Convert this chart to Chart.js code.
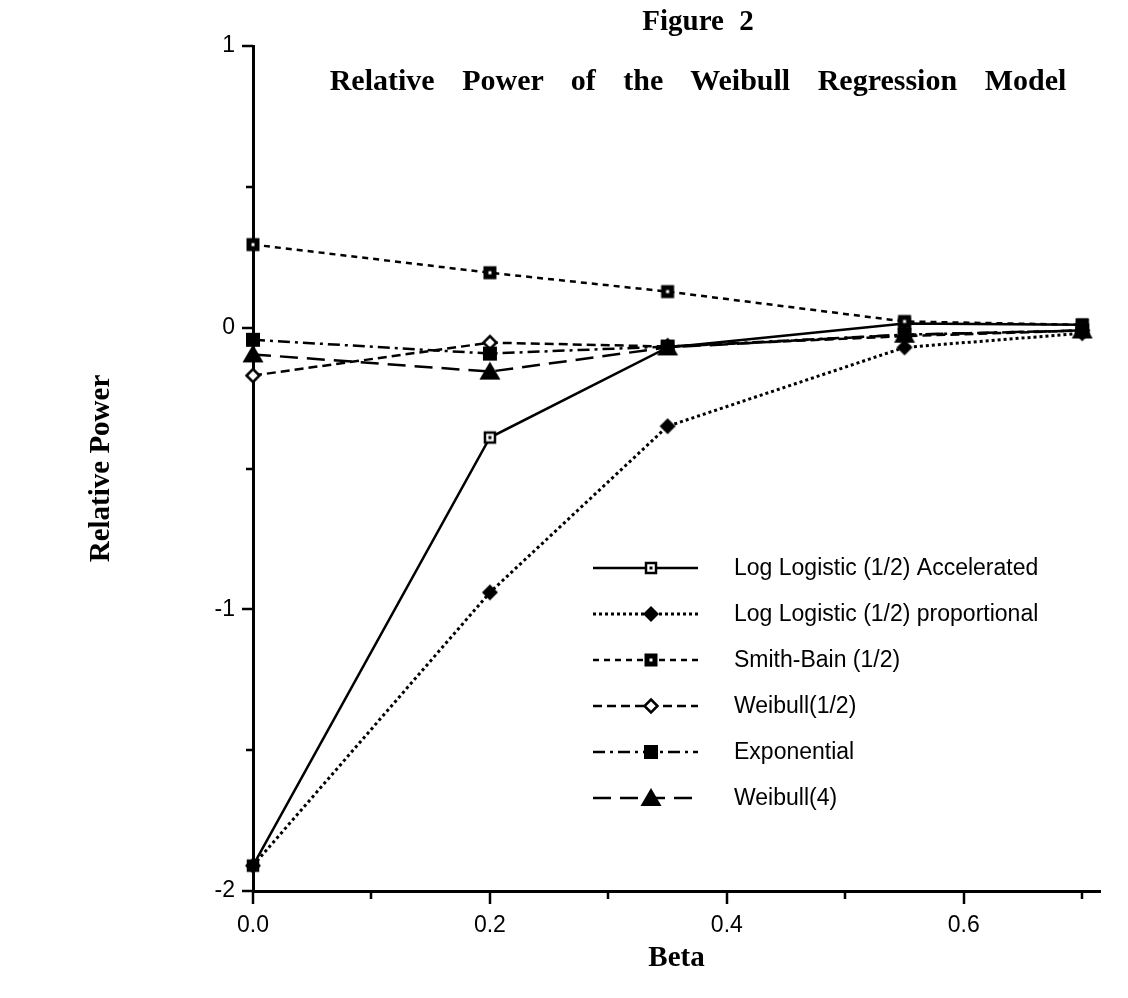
<!DOCTYPE html>
<html>
<head>
<meta charset="utf-8">
<title>Figure 2</title>
<script src="https://cdn.jsdelivr.net/npm/chart.js@4.4.1/dist/chart.umd.min.js"></script>
<style>
  html, body { margin: 0; padding: 0; background: #fff; }
  #wrap { position: relative; width: 1128px; height: 998px; }
  .title {
    position: absolute;
    left: 698px;
    transform: translateX(-50%);
    white-space: nowrap;
    font-family: "Liberation Serif", "Times New Roman", serif;
    font-weight: bold;
    color: #000;
    line-height: 1;
  }
</style>
</head>
<body>
<div id="wrap">
  <canvas id="chart" width="1128" height="998"></canvas>
  <div class="title" style="top:6px; font-size:29px; word-spacing:8px;">Figure 2</div>
  <div class="title" style="top:65px; font-size:30px; word-spacing:20px;">Relative Power of the Weibull Regression Model</div>
</div>
<script>
// values
const betaValues = [0, 0.2, 0.35, 0.55, 0.7];
const logLogisticAccelerated = [-1.91, -0.39, -0.07, 0.015, 0.01];
const logLogisticProportional = [-1.91, -0.94, -0.35, -0.07, -0.02];
const smithBain = [0.295, 0.195, 0.128, 0.022, 0.01];
const weibullHalf = [-0.17, -0.053, -0.067, -0.03, -0.01];
const exponential = [-0.043, -0.092, -0.067, -0.025, -0.01];
const weibullFour = [-0.095, -0.156, -0.07, -0.025, -0.01];

const seriesNames = [
  "Log Logistic (1/2) Accelerated",
  "Log Logistic (1/2) proportional",
  "Smith-Bain (1/2)",
  "Weibull(1/2)",
  "Exponential",
  "Weibull(4)"
];

const xTickLabels = [0, 0.2, 0.4, 0.6];
const yTickLabels = [-2, -1, 0, 1];

// small canvases used as point styles
function makeMarker(kind) {
  const s = 26;
  const c = document.createElement("canvas");
  c.width = s;
  c.height = s;
  const g = c.getContext("2d");
  const m = s / 2;
  g.fillStyle = "#000";
  g.strokeStyle = "#000";
  if (kind === "openSquareDot") {
    g.fillStyle = "#fff";
    g.fillRect(m - 6, m - 6, 12, 12);
    g.lineWidth = 2.5;
    g.strokeRect(m - 5, m - 5, 10, 10);
    g.fillStyle = "#000";
    g.fillRect(m - 1.5, m - 1.5, 3, 3);
  } else if (kind === "diamond") {
    g.beginPath();
    g.moveTo(m, m - 8); g.lineTo(m + 8, m); g.lineTo(m, m + 8); g.lineTo(m - 8, m);
    g.closePath();
    g.fill();
  } else if (kind === "squareDot") {
    g.fillRect(m - 6.5, m - 6.5, 13, 13);
    g.fillStyle = "#fff";
    g.fillRect(m - 1.5, m - 1.5, 3, 3);
  } else if (kind === "openDiamond") {
    g.beginPath();
    g.moveTo(m, m - 6.5); g.lineTo(m + 6.5, m); g.lineTo(m, m + 6.5); g.lineTo(m - 6.5, m);
    g.closePath();
    g.fillStyle = "#fff";
    g.fill();
    g.lineWidth = 2.5;
    g.stroke();
  } else if (kind === "square") {
    g.fillRect(m - 7, m - 7, 14, 14);
  } else if (kind === "triangle") {
    g.beginPath();
    g.moveTo(m, m - 10); g.lineTo(m + 10.5, m + 8); g.lineTo(m - 10.5, m + 8);
    g.closePath();
    g.fill();
  }
  return c;
}

function series(name, values, dash, width, marker, order) {
  return {
    label: name,
    data: betaValues.map((b, i) => ({ x: b, y: values[i] })),
    borderColor: "#000",
    borderWidth: width,
    borderDash: dash,
    pointStyle: makeMarker(marker),
    pointRadius: 8,
    showLine: true,
    tension: 0,
    clip: false,
    order: order
  };
}

const datasets = [
  series(seriesNames[0], logLogisticAccelerated, [], 2.5, "openSquareDot", 5),
  series(seriesNames[1], logLogisticProportional, [3, 3], 3, "diamond", 4),
  series(seriesNames[2], smithBain, [6, 5], 2.5, "squareDot", 3),
  series(seriesNames[3], weibullHalf, [9, 5], 2.5, "openDiamond", 2),
  series(seriesNames[4], exponential, [12, 5, 3, 5], 2.5, "square", 1),
  series(seriesNames[5], weibullFour, [18, 9], 2.5, "triangle", 0)
];

// tick marks: long at labelled values, short at the others
const tickMarks = {
  id: "tickMarks",
  afterDraw(chart) {
    const ctx = chart.ctx;
    const xs = chart.scales.x, ys = chart.scales.y;
    const area = chart.chartArea;
    ctx.save();
    ctx.strokeStyle = "#000";
    ctx.lineWidth = 2.5;
    xs.ticks.forEach(t => {
      const px = Math.round(xs.getPixelForValue(t.value));
      const major = xTickLabels.some(v => Math.abs(v - t.value) < 1e-6);
      ctx.beginPath();
      ctx.moveTo(px, area.bottom);
      ctx.lineTo(px, area.bottom + (major ? 13 : 8));
      ctx.stroke();
    });
    ys.ticks.forEach(t => {
      const py = Math.round(ys.getPixelForValue(t.value));
      const major = yTickLabels.some(v => Math.abs(v - t.value) < 1e-6);
      ctx.beginPath();
      ctx.moveTo(area.left, py);
      ctx.lineTo(area.left - (major ? 11 : 7), py);
      ctx.stroke();
    });
    ctx.restore();
  }
};

// legend drawn inside the plot: line sample with marker in the middle
const innerLegend = {
  id: "innerLegend",
  afterDraw(chart) {
    const ctx = chart.ctx;
    const x0 = 593, x1 = 698, xm = 651, xt = 734, y0 = 568, dy = 46;
    ctx.save();
    chart.data.datasets.forEach((ds, i) => {
      const y = y0 + i * dy;
      ctx.strokeStyle = "#000";
      ctx.lineWidth = ds.borderWidth;
      ctx.setLineDash(ds.borderDash);
      ctx.beginPath();
      ctx.moveTo(x0, y);
      ctx.lineTo(x1, y);
      ctx.stroke();
      ctx.setLineDash([]);
      const img = ds.pointStyle;
      ctx.drawImage(img, xm - img.width / 2, y - img.height / 2);
      ctx.fillStyle = "#000";
      ctx.font = '23px "Liberation Sans", Arial, sans-serif';
      ctx.textBaseline = "middle";
      ctx.textAlign = "left";
      ctx.fillText(ds.label, xt, y + 1);
    });
    ctx.restore();
  }
};

const tickFont = { family: '"Liberation Sans", Arial, sans-serif', size: 23 };
const axisTitleFont = { family: '"Liberation Serif", "Times New Roman", serif', size: 29, weight: "bold" };

new Chart(document.getElementById("chart").getContext("2d"), {
  type: "scatter",
  data: { datasets: datasets },
  options: {
    responsive: false,
    animation: false,
    layout: { padding: { top: 46, right: 28, bottom: 0, left: 0 } },
    plugins: {
      legend: { display: false },
      tooltip: { enabled: false }
    },
    scales: {
      x: {
        type: "linear",
        min: 0,
        max: 0.715,
        afterFit: s => { s.height = 107; },
        grid: { display: false, drawTicks: true, tickLength: 13 },
        border: { display: true, color: "#000", width: 3 },
        ticks: {
          stepSize: 0.1,
          includeBounds: false,
          autoSkip: false,
          maxRotation: 0,
          padding: 8,
          color: "#000",
          font: tickFont,
          callback: v => xTickLabels.some(t => Math.abs(t - v) < 1e-6) ? v.toFixed(1) : ""
        },
        title: {
          display: true,
          text: "Beta",
          color: "#000",
          font: axisTitleFont,
          padding: { top: 0, bottom: 22 }
        }
      },
      y: {
        type: "linear",
        min: -2,
        max: 1,
        afterFit: s => { s.width = 253; },
        grid: { display: false, drawTicks: true, tickLength: 11 },
        border: { display: true, color: "#000", width: 3 },
        ticks: {
          stepSize: 0.5,
          autoSkip: false,
          padding: 7,
          color: "#000",
          font: tickFont,
          callback: v => yTickLabels.includes(v) ? String(v) : ""
        },
        title: {
          display: true,
          text: "Relative Power",
          color: "#000",
          font: axisTitleFont,
          padding: { top: 84, bottom: 0 }
        }
      }
    }
  },
  plugins: [tickMarks, innerLegend]
});
</script>
</body>
</html>
